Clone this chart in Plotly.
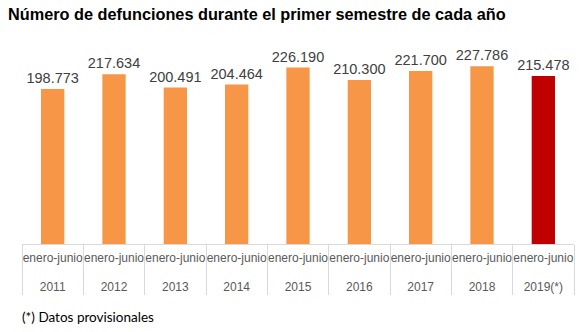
import plotly.graph_objects as go

years = ["2011", "2012", "2013", "2014", "2015", "2016", "2017", "2018", "2019(*)"]
period = ["enero-junio"] * 9
deaths = [198773, 217634, 200491, 204464, 226190, 210300, 221700, 227786, 215478]
colors = ["#F79646"] * 8 + ["#C00000"]

FONT = "Liberation Sans"
# second (blank) line pushes the year row lower, as in the reference
period_lbl = [p + "<br>\u00a0" for p in period]

fig = go.Figure()
fig.add_trace(go.Bar(
    x=[years, period_lbl],
    y=deaths,
    marker=dict(color=colors, line=dict(width=0)),
    width=0.38,
    texttemplate="%{y:,.0f}",
    textposition="outside",
    constraintext="none",
    cliponaxis=False,
    textfont=dict(family=FONT, size=14.5, color="#404040"),
    hoverinfo="skip",
))

fig.update_layout(
    width=586, height=332,
    margin=dict(l=22, r=12, t=49, b=88),
    paper_bgcolor="white", plot_bgcolor="white",
    separators=",.",
    showlegend=False,
    title=dict(
        text="<b>Número de defunciones durante el primer semestre de cada año</b>",
        x=8 / 586, xanchor="left", xref="container",
        y=1 - 14 / 332, yanchor="middle", yref="container",
        font=dict(family=FONT, size=16.3, color="#000000"),
    ),
    xaxis=dict(
        type="multicategory",
        showline=True, linecolor="#D9D9D9", linewidth=1,
        showdividers=True, dividercolor="#D9D9D9", dividerwidth=1,
        tickfont=dict(family=FONT, size=12, color="#595959"),
        tickangle=0,
        automargin=False,
        ticks="", ticklabelstandoff=3,
        showgrid=False,
    ),
    yaxis=dict(range=[0, 250000], visible=False, showgrid=False, zeroline=False,
               automargin=False),
    annotations=[dict(
        text="(*) Datos provisionales",
        xref="paper", yref="paper",
        x=-2 / 564, xanchor="left",
        y=-(317 - 244) / 195, yanchor="middle",
        showarrow=False,
        font=dict(family="Lato", size=13.5, color="#000000"),
    )],
)

fig.write_html("out.html")
